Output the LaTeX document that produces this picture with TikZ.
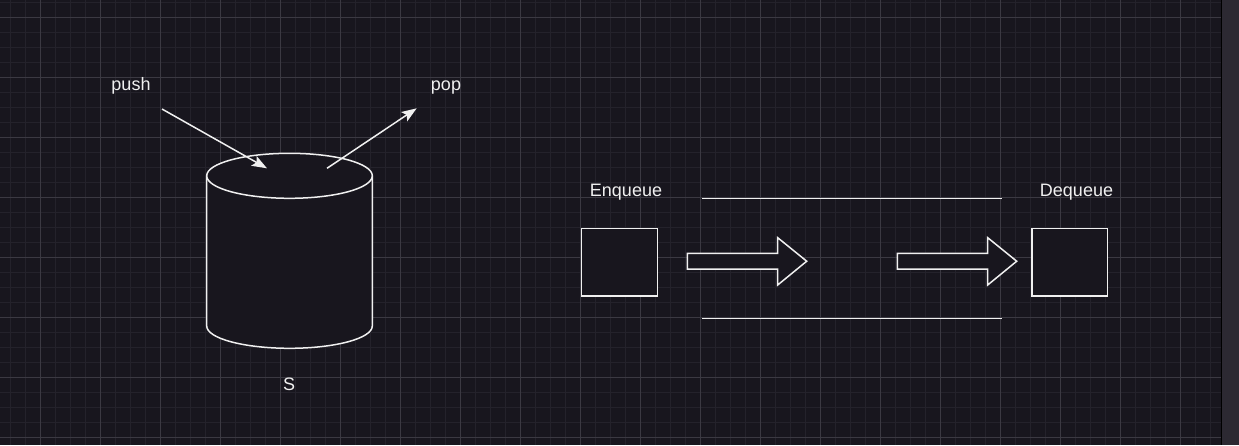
\documentclass[tikz,border=0pt]{standalone}
\usepackage{fontspec}
\setmainfont{Liberation Sans}
\usepackage{tikz}
\usetikzlibrary{arrows.meta,shapes.geometric}
\definecolor{CanvasBg}{HTML}{18161E}
\definecolor{MinorGrid}{HTML}{24222B}
\definecolor{MajorGrid}{HTML}{3B3942}
\definecolor{ScrollBar}{HTML}{2C2932}
\definecolor{InkGray}{HTML}{F0F0F0}

\begin{document}
\begin{tikzpicture}[x=1pt, y=-1pt,
  lbl/.style={text=InkGray, inner sep=0pt, anchor=base, font=\fontsize{18}{20}\selectfont},
  ink/.style={draw=InkGray, line width=1.5pt, fill=CanvasBg},
  qbox/.style={ink, minimum width=75.6pt, minimum height=67.7pt, inner sep=0pt},
  cylcap/.style={ink, ellipse, minimum width=165.6pt, minimum height=45pt, inner sep=0pt},
  conn/.style={draw=InkGray, line width=1.5pt, -{Stealth[length=15pt, width=11pt, inset=3pt]}},
  rail/.style={draw=InkGray, line width=1.5pt}]
% canvas and grid
\useasboundingbox (0,0) rectangle (1239,445);
\fill[CanvasBg] (0,0) rectangle (1239,445);
\foreach \gx in {10,25,...,1220} \draw[MinorGrid, line width=1pt] (\gx,0) -- (\gx,445);
\foreach \gy in {2,17,...,445} \draw[MinorGrid, line width=1pt] (0,\gy) -- (1221,\gy);
\foreach \gx in {40,100,...,1220} \draw[MajorGrid, line width=1pt] (\gx,0) -- (\gx,445);
\foreach \gy in {17,77,...,445} \draw[MajorGrid, line width=1pt] (0,\gy) -- (1221,\gy);
\fill[ScrollBar] (1222,0) rectangle (1239,445);
\draw[black, line width=1pt] (1221.5,0) -- (1221.5,445);

% stack
\draw[ink] (206.7,175.8) -- (206.7,326) arc[start angle=180, end angle=0, x radius=82.8, y radius=22.3] -- (372.3,175.8);
\node[cylcap] (cap) at (289.5,175.8) {};
\node[lbl] (slabel) at (289,390.7) {S};
\node[lbl] (push) at (131,90.7) {push};
\node[lbl] (pop) at (446,90.7) {pop};
\coordinate (pushfrom) at (162,109);
\coordinate (pushto) at (267,168.3);
\coordinate (popfrom) at (327,168.3);
\coordinate (popto) at (416.7,108.3);
\draw[conn] (pushfrom) -- (pushto);
\draw[conn] (popfrom) -- (popto);

% queue
\node[qbox] (enq) at (619.5,262.2) {};
\node[qbox] (deq) at (1069.7,262.2) {};
\node[lbl] (enqlabel) at (626,196) {Enqueue};
\node[lbl] (deqlabel) at (1076.5,196) {Dequeue};
\coordinate (railtl) at (702.3,198.3);
\coordinate (railtr) at (1001.7,198.3);
\coordinate (railbl) at (702.3,318.3);
\coordinate (railbr) at (1001.7,318.3);
\draw[rail] (railtl) -- (railtr);
\draw[rail] (railbl) -- (railbr);
\foreach \ax in {687.3,897.3}
  \draw[ink] (\ax,253.3) -- ({\ax+90.4},253.3) -- ({\ax+90.4},237.7) -- ({\ax+119.4},261.2)
    -- ({\ax+90.4},285) -- ({\ax+90.4},269) -- (\ax,269) -- cycle;
\end{tikzpicture}
\end{document}
